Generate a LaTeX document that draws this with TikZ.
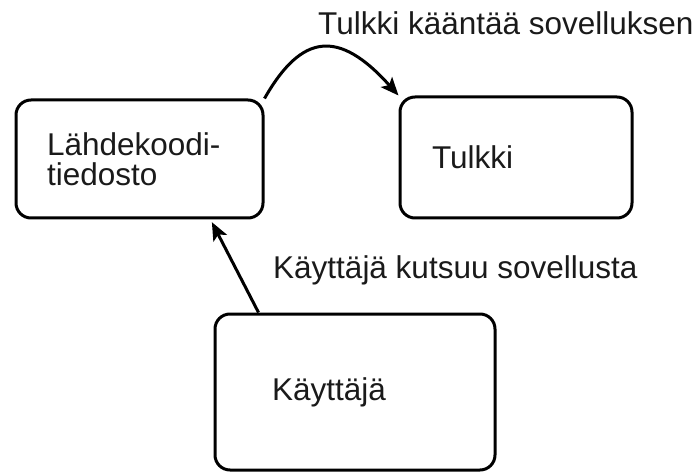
\documentclass[tikz,border=0pt]{standalone}
\usepackage{fontspec}
\setmainfont{Liberation Sans}
\usepackage{tikz}
\usetikzlibrary{arrows.meta,calc}
\definecolor{ink}{HTML}{000000}
\definecolor{txt}{HTML}{1A1A1A}
\tikzset{
  box/.style={draw=ink, line width=3pt, rounded corners=15pt, align=left,
    text=txt, font=\fontsize{31.5}{30}\selectfont, inner ysep=0pt},
  edge/.style={draw=ink, line width=3pt, -{Stealth[length=18pt,width=15pt,inset=4pt]}},
  lab/.style={text=txt, font=\fontsize{31.5}{30}\selectfont, inner sep=0pt, anchor=base west}
}
\begin{document}
\begin{tikzpicture}[x=1pt,y=1pt]
  \useasboundingbox (0,0) rectangle (699,472);

  \node[box, text width=185pt, inner xsep=31pt, minimum height=118pt] (lahde) at (139.5,313) {Lähdekoodi-\\tiedosto};
  \node[box, text width=168pt, inner xsep=32pt, minimum height=121pt] (tulkki) at (516,314.5) {Tulkki};
  \node[box, text width=166pt, inner xsep=57pt, minimum height=156pt] (kayttaja) at (355,80) {Käyttäjä};

  \draw[edge] (lahde.north east) .. controls +(37,65) and +(-60,67) .. (tulkki.north west);
  \draw[edge, shorten >=3pt] ($(kayttaja.north west)+(45,0)$) -- ($(lahde.south west)+(196,0)$);

  \node[lab] (kaantaa) at (318,437) {Tulkki kääntää sovelluksen};
  \node[lab] (kutsuu) at (273,194) {Käyttäjä kutsuu sovellusta};
\end{tikzpicture}
\end{document}
